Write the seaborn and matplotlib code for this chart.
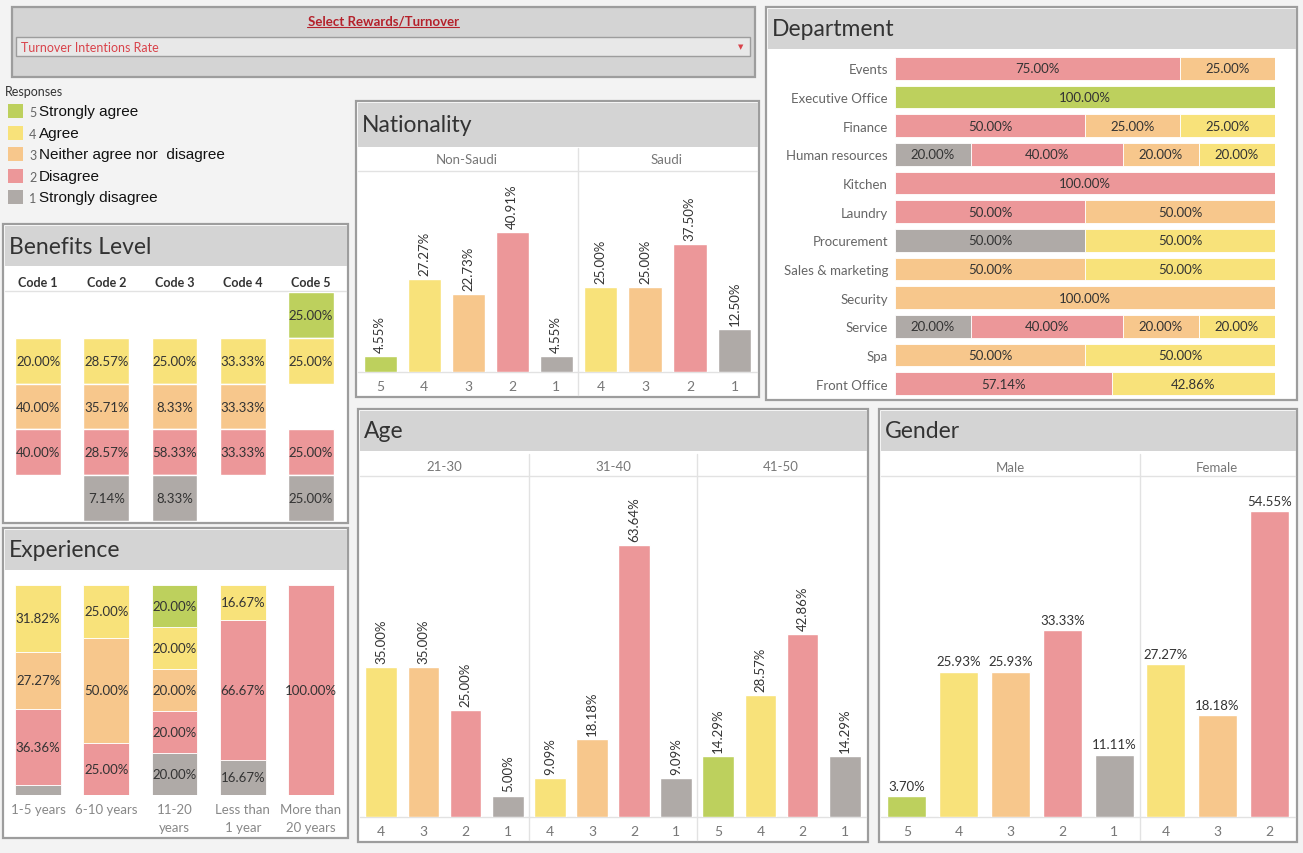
import numpy as np
import pandas as pd
import seaborn as sns
import matplotlib.pyplot as plt
from matplotlib.patches import Rectangle

# Data (percent of responses)

levels_all = ['5', '4', '3', '2', '1']
level_names = ['Strongly agree', 'Agree', 'Neither agree nor  disagree', 'Disagree', 'Strongly disagree']
level_colors = {'5': '#bdd05d', '4': '#f8e27a', '3': '#f7c78c', '2': '#ec9799', '1': '#afaaa7'}

# Benefits level (grid of cells, None = no answer)
ben_codes = ['Code 1', 'Code 2', 'Code 3', 'Code 4', 'Code 5']
ben_l5 = [None, None, None, None, 25.00]
ben_l4 = [20.00, 28.57, 25.00, 33.33, 25.00]
ben_l3 = [40.00, 35.71, 8.33, 33.33, None]
ben_l2 = [40.00, 28.57, 58.33, 33.33, 25.00]
ben_l1 = [None, 7.14, 8.33, None, 25.00]

# Experience (stacked to 100%)
exp_cats = ['1-5 years', '6-10 years', '11-20\nyears', 'Less than\n1 year', 'More than\n20 years']
exp_l1 = [4.55, 0, 20.00, 16.67, 0]
exp_l2 = [36.36, 25.00, 20.00, 66.67, 100.00]
exp_l3 = [27.27, 50.00, 20.00, 0, 0]
exp_l4 = [31.82, 25.00, 20.00, 16.67, 0]
exp_l5 = [0, 0, 20.00, 0, 0]

# Department (stacked horizontal, 100%)
dept_names = ['Events', 'Executive Office', 'Finance', 'Human resources', 'Kitchen', 'Laundry',
              'Procurement', 'Sales & marketing', 'Security', 'Service', 'Spa', 'Front Office']
dept_l1 = [0, 0, 0, 20.00, 0, 0, 50.00, 0, 0, 20.00, 0, 0]
dept_l2 = [75.00, 0, 50.00, 40.00, 100.00, 50.00, 0, 0, 0, 40.00, 0, 57.14]
dept_l3 = [25.00, 0, 25.00, 20.00, 0, 50.00, 0, 50.00, 100.00, 20.00, 50.00, 0]
dept_l4 = [0, 0, 25.00, 20.00, 0, 0, 50.00, 50.00, 0, 20.00, 50.00, 42.86]
dept_l5 = [0, 100.00, 0, 0, 0, 0, 0, 0, 0, 0, 0, 0]

# Nationality
nat_nonsaudi_lv = ['5', '4', '3', '2', '1']
nat_nonsaudi = [4.55, 27.27, 22.73, 40.91, 4.55]
nat_saudi_lv = ['4', '3', '2', '1']
nat_saudi = [25.00, 25.00, 37.50, 12.50]

# Age
age_2130_lv = ['4', '3', '2', '1']
age_2130 = [35.00, 35.00, 25.00, 5.00]
age_3140_lv = ['4', '3', '2', '1']
age_3140 = [9.09, 18.18, 63.64, 9.09]
age_4150_lv = ['5', '4', '2', '1']
age_4150 = [14.29, 28.57, 42.86, 14.29]

# Gender
male_lv = ['5', '4', '3', '2', '1']
male = [3.70, 25.93, 25.93, 33.33, 11.11]
female_lv = ['4', '3', '2']
female = [27.27, 18.18, 54.55]

sns.set_theme(style='white')
plt.rcParams['font.family'] = ['Lato', 'DejaVu Sans']

W, H = 1303, 854
fig = plt.figure(figsize=(W / 100, H / 100), dpi=100, facecolor='#f3f3f3')

# background axes in pixel units for frames / headers
bg = fig.add_axes([0, 0, 1, 1])
bg.set_xlim(0, W)
bg.set_ylim(H, 0)
bg.axis('off')
bg.set_zorder(-1)

LINE = '#e2e2e2'


def px_axes(x0, y0, x1, y1):
    return fig.add_axes([x0 / W, 1 - y1 / H, (x1 - x0) / W, (y1 - y0) / H])


def panel(x0, y0, x1, y1, title, head=40):
    bg.add_patch(Rectangle((x0, y0), x1 - x0, y1 - y0, facecolor='white', edgecolor='#9d9d9d', lw=1.6))
    bg.add_patch(Rectangle((x0 + 1.5, y0 + 1.5), x1 - x0 - 3, head, facecolor='#d4d4d4', edgecolor='none'))
    bg.text(x0 + 6, y0 + 2 + head / 2, title, fontsize=16.5, color='#333333', va='center')


def clean(ax):
    ax.set_facecolor('none')
    for s in ax.spines.values():
        s.set_visible(False)
    ax.set_xlabel('')
    ax.set_ylabel('')
    ax.tick_params(length=0)


def facet(ax, lv, vals, ymax, rotate=True):
    df = pd.DataFrame({'level': lv, 'pct': vals})
    sns.barplot(data=df, x='level', y='pct', hue='level', order=lv, hue_order=lv,
                palette=level_colors, width=0.75, saturation=1, legend=False,
                errorbar=None, ax=ax)
    for cont, v in zip(ax.containers, vals):
        ax.bar_label(cont, labels=[f'{v:.2f}%'], rotation=90 if rotate else 0,
                     padding=3, fontsize=9.5, color='#333333')
    clean(ax)
    ax.set_ylim(0, ymax)
    ax.set_xlim(-0.5, len(lv) - 0.5)
    ax.set_yticks([])
    ax.tick_params(axis='x', labelsize=10, labelcolor='#777777', pad=6)


# ---- filter box ----
bg.add_patch(Rectangle((12, 8), 743, 70, facecolor='#d4d4d4', edgecolor='#9d9d9d', lw=1.6))
bg.text(383, 21, 'Select Rewards/Turnover', fontsize=9.5, color='#b5212b', fontweight='bold',
        ha='center', va='center')
bg.plot([307, 459], [27.5, 27.5], color='#b5212b', lw=0.8)
bg.add_patch(Rectangle((16, 38), 734, 19, facecolor='#e8e8e8', edgecolor='#9d9d9d', lw=1))
bg.text(21, 48, 'Turnover Intentions Rate', fontsize=9, color='#d9434b', va='center')
bg.text(741, 47, '▼', fontsize=5, color='#d9434b', ha='center', va='center', family='DejaVu Sans')

# ---- legend ----
bg.text(5, 92, 'Responses', fontsize=9, color='#333333', va='center')
for i, (lv, name) in enumerate(zip(levels_all, level_names)):
    y = 112 + i * 21.6
    bg.add_patch(Rectangle((8, y - 7), 15, 14, facecolor=level_colors[lv], edgecolor='none'))
    bg.text(29, y + 1, lv, fontsize=9, color='#666666', va='center')
    bg.text(39, y, name, fontsize=11, color='#111111', va='center', family='Liberation Sans')

# ---- Benefits Level ----
panel(3, 225, 348, 524, 'Benefits Level')
bg.plot([5, 346], [292, 292], color=LINE, lw=1)
ax = px_axes(4, 293, 345, 522)
ben_rows = {'5': ben_l5, '4': ben_l4, '3': ben_l3, '2': ben_l2, '1': ben_l1}
for lv, row in ben_rows.items():
    idx = [i for i, v in enumerate(row) if v is not None]
    vals = [row[i] for i in idx]
    cont = ax.bar(idx, [1] * len(idx), bottom=int(lv) - 1, width=0.67,
                  color=level_colors[lv], edgecolor='white', linewidth=1)
    ax.bar_label(cont, labels=[f'{v:.2f}%' for v in vals], label_type='center',
                 fontsize=9.5, color='#333333')
clean(ax)
ax.set_xlim(-0.5, 4.5)
ax.set_ylim(0, 5)
ax.set_yticks([])
ax.xaxis.tick_top()
ax.set_xticks(range(len(ben_codes)), ben_codes)
ax.tick_params(axis='x', labelsize=9, labelcolor='#333333', pad=3)
for t in ax.get_xticklabels():
    t.set_fontweight('bold')

# ---- Experience ----
panel(3, 529, 348, 839, 'Experience')
ax = px_axes(4, 586, 345, 796)
bottom = np.zeros(len(exp_cats))
for lv, row in [('1', exp_l1), ('2', exp_l2), ('3', exp_l3), ('4', exp_l4), ('5', exp_l5)]:
    row = np.array(row, dtype=float)
    idx = np.where(row > 0)[0]
    cont = ax.bar(idx, row[idx], bottom=bottom[idx], width=0.67, color=level_colors[lv],
                  edgecolor='white', linewidth=0.6)
    ax.bar_label(cont, labels=[f'{v:.2f}%' if v >= 10 else '' for v in row[idx]],
                 label_type='center', fontsize=9.5, color='#333333')
    bottom += row
clean(ax)
ax.set_xlim(-0.5, 4.5)
ax.set_ylim(0, 100)
ax.set_yticks([])
ax.set_xticks(range(len(exp_cats)), exp_cats)
ax.tick_params(axis='x', labelsize=9.5, labelcolor='#888888', pad=5.5)
for t in ax.get_xticklabels():
    t.set_linespacing(1.65)

# ---- Nationality ----
panel(356, 102, 759, 398, 'Nationality', head=44)
bg.plot([358, 757], [172, 172], color=LINE, lw=1)
bg.plot([358, 757], [373, 373], color=LINE, lw=1)
bg.plot([578, 578], [149, 396], color=LINE, lw=1)
bg.text(467, 160, 'Non-Saudi', fontsize=9.5, color='#777777', ha='center', va='center')
bg.text(667, 160, 'Saudi', fontsize=9.5, color='#777777', ha='center', va='center')
facet(px_axes(358, 172, 578, 373), nat_nonsaudi_lv, nat_nonsaudi, 58.9)
facet(px_axes(578, 172, 757, 373), nat_saudi_lv, nat_saudi, 58.9)

# ---- Department ----
panel(766, 8, 1297, 401, 'Department')
ax = px_axes(895, 55, 1275, 399)
left = np.zeros(len(dept_names))
for lv, row in [('1', dept_l1), ('2', dept_l2), ('3', dept_l3), ('4', dept_l4), ('5', dept_l5)]:
    row = np.array(row, dtype=float)
    idx = np.where(row > 0)[0]
    cont = ax.barh(idx, row[idx], left=left[idx], height=0.8, color=level_colors[lv],
                   edgecolor='white', linewidth=0.6)
    ax.bar_label(cont, labels=[f'{v:.2f}%' for v in row[idx]], label_type='center',
                 fontsize=9.5, color='#333333')
    left += row
clean(ax)
ax.set_xlim(0, 100)
ax.set_ylim(len(dept_names) - 0.5, -0.5)
ax.set_xticks([])
ax.set_yticks(range(len(dept_names)), dept_names)
ax.tick_params(axis='y', labelsize=9.5, labelcolor='#666666', pad=5)

# ---- Age ----
panel(358, 410, 868, 843, 'Age')
bg.plot([360, 866], [477, 477], color=LINE, lw=1)
bg.plot([360, 866], [818, 818], color=LINE, lw=1)
for xd in (529, 697):
    bg.plot([xd, xd], [455, 841], color=LINE, lw=1)
for xc, lab in [(444, '21-30'), (613, '31-40'), (781, '41-50')]:
    bg.text(xc, 467, lab, fontsize=9.5, color='#777777', ha='center', va='center')
facet(px_axes(360, 478, 529, 818), age_2130_lv, age_2130, 79.5)
facet(px_axes(529, 478, 697, 818), age_3140_lv, age_3140, 79.5)
facet(px_axes(697, 478, 866, 818), age_4150_lv, age_4150, 79.5)

# ---- Gender ----
panel(879, 410, 1297, 843, 'Gender')
bg.plot([881, 1295], [477, 477], color=LINE, lw=1)
bg.plot([881, 1295], [818, 818], color=LINE, lw=1)
bg.plot([1140, 1140], [455, 841], color=LINE, lw=1)
bg.text(1010, 468, 'Male', fontsize=9.5, color='#777777', ha='center', va='center')
bg.text(1217, 468, 'Female', fontsize=9.5, color='#777777', ha='center', va='center')
facet(px_axes(881, 478, 1140, 818), male_lv, male, 60.6, rotate=False)
facet(px_axes(1140, 478, 1295, 818), female_lv, female, 60.6, rotate=False)

fig.savefig('out.png', dpi=100, facecolor=fig.get_facecolor())
